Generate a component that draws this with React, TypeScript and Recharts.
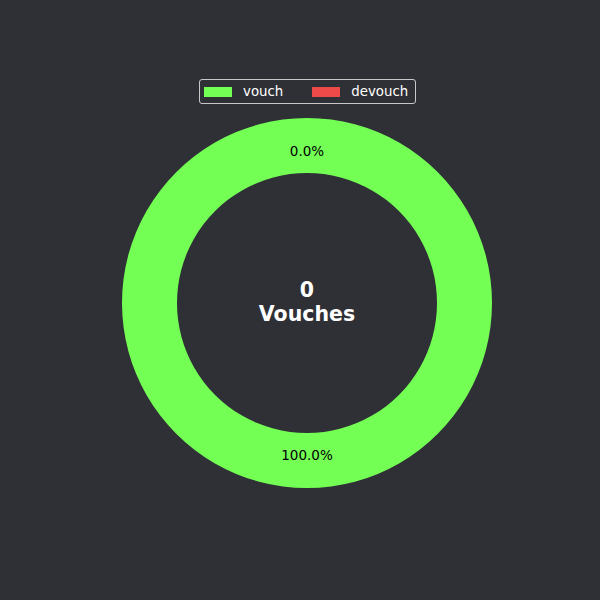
import React from "react";
import { PieChart, Pie, Cell, Legend } from "recharts";

const labels = ["vouch", "devouch"];
const counts = [1, 0];
const colors = ["#74ff55", "#ef4a4a"];
const centerValue = "0";
const centerTitle = "Vouches";

const data = labels.map((name, i) => ({ name, value: counts[i] }));

const FONT = "'DejaVu Sans', sans-serif";
const BG = "#2f3036";

const RADIAN = Math.PI / 180;

function renderLabel(props: any) {
  const { cx, cy, midAngle, percent } = props;
  const r = 152;
  const x = cx + r * Math.cos(-midAngle * RADIAN);
  const y = cy + r * Math.sin(-midAngle * RADIAN);
  return (
    <text
      x={x}
      y={y}
      fill="#000"
      fontSize={13.5}
      fontFamily={FONT}
      textAnchor="middle"
      dominantBaseline="central"
    >
      {(percent * 100).toFixed(1)}%
    </text>
  );
}

function LegendBox() {
  return (
    <div
      style={{
        display: "flex",
        alignItems: "center",
        height: 25,
        width: 217,
        border: "1px solid #c8c8c8",
        borderRadius: 3,
        boxSizing: "border-box",
        fontFamily: FONT,
        fontSize: 13.33,
        color: "#fff",
        paddingLeft: 4,
      }}
    >
      {labels.map((name, i) => (
        <div key={name} style={{ display: "flex", alignItems: "center", marginRight: i === 0 ? 29 : 0 }}>
          <span style={{ display: "inline-block", width: 28, height: 10, background: colors[i], marginRight: 11 }} />
          <span>{name}</span>
        </div>
      ))}
    </div>
  );
}

export default function App() {
  return (
    <div style={{ position: "absolute", left: 0, top: 0, width: 600, height: 600, background: BG }}>
      <PieChart width={600} height={600} margin={{ top: 0, right: 0, bottom: 0, left: 0 }}>
        <Legend
          content={<LegendBox />}
          wrapperStyle={{ position: "absolute", left: 199, top: 79, width: 217 }}
        />
        <Pie
          data={data}
          dataKey="value"
          nameKey="name"
          cx={307}
          cy={303}
          innerRadius={130}
          outerRadius={185}
          startAngle={90}
          endAngle={-270}
          stroke="none"
          label={renderLabel}
          labelLine={false}
          isAnimationActive={false}
        >
          {data.map((d, i) => (
            <Cell key={d.name} fill={colors[i]} />
          ))}
        </Pie>
        <text x={307} y={290} fill="#fff" fontSize={20.5} fontWeight="bold" fontFamily={FONT} textAnchor="middle" dominantBaseline="central">
          {centerValue}
        </text>
        <text x={307} y={314} fill="#fff" fontSize={20.5} fontWeight="bold" fontFamily={FONT} textAnchor="middle" dominantBaseline="central">
          {centerTitle}
        </text>
      </PieChart>
    </div>
  );
}
